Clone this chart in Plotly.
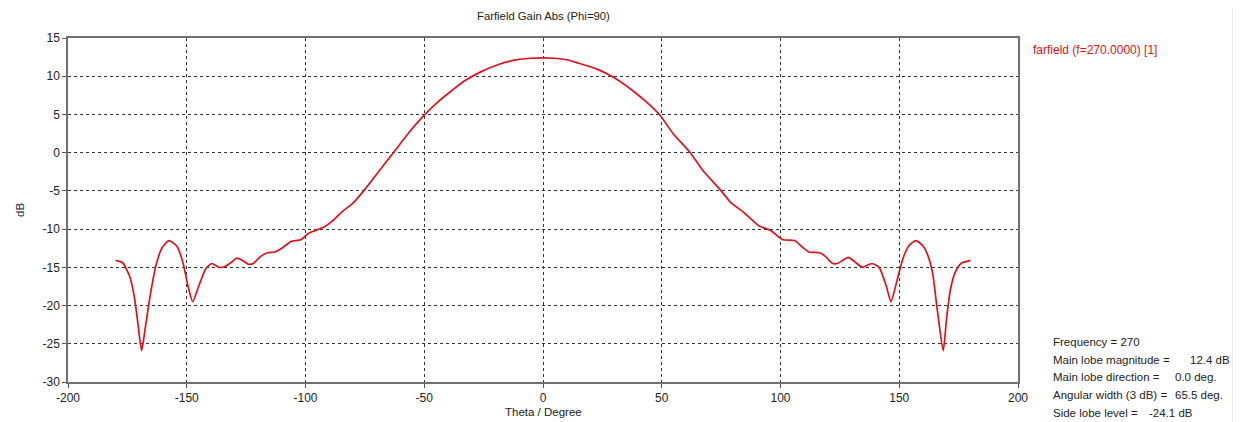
import plotly.graph_objects as go

theta = [-180, -177, -174, -172, -170.5, -169, -167.5, -165.5, -163, -160.5, -157.5, -154, -151.5,
         -149.5, -147.5, -145, -142, -139.5, -136.5, -134, -131, -129, -126.5, -124, -122, -119,
         -116, -113, -110, -106, -102, -99, -96, -92, -88.5, -84.5, -80, -75, -69, -63, -56.5,
         -50, -44, -38.5, -33, -26, -19, -12, -5, 0,
         5, 10, 15, 23, 30, 37, 44, 49.5, 55, 62, 67.5, 74.5, 79, 84.5, 88, 91, 96, 101, 106,
         109, 112, 116.5, 119, 122, 124, 128.5, 131, 134.5, 138.5, 141.5, 144.5, 146.5, 148.5,
         151.5, 154, 157, 160, 162, 164, 166, 168.5, 170, 171.5, 173.5, 176, 180]
gain_db = [-14.1, -14.4, -16.2, -19.0, -22.5, -25.9, -23.0, -18.9, -14.8, -12.5, -11.5, -12.3, -14.5,
           -17.4, -19.5, -17.5, -15.2, -14.5, -15.0, -14.9, -14.3, -13.8, -14.1, -14.6, -14.5, -13.6,
           -13.1, -13.0, -12.5, -11.6, -11.4, -10.6, -10.2, -9.7, -8.9, -7.7, -6.6, -4.8, -2.4, 0.0, 2.6,
           4.9, 6.7, 8.1, 9.4, 10.6, 11.5, 12.1, 12.35, 12.4,
           12.35, 12.15, 11.7, 10.9, 9.8, 8.3, 6.5, 4.8, 2.4, 0.0, -2.4, -4.8, -6.5, -7.8, -8.8, -9.6,
           -10.2, -11.4, -11.5, -12.3, -13.0, -13.1, -13.6, -14.5, -14.5, -13.7, -14.2, -15.0, -14.5,
           -15.0, -17.4, -19.5, -17.4, -13.9, -12.2, -11.5, -12.2, -13.4, -15.7, -20.5, -25.9, -21.5,
           -18.0, -15.7, -14.5, -14.1]

x_ticks = [-200, -150, -100, -50, 0, 50, 100, 150, 200]
y_ticks = [15, 10, 5, 0, -5, -10, -15, -20, -25, -30]

title_text = "Farfield Gain Abs (Phi=90)"
series_name = "farfield (f=270.0000) [1]"
x_title = "Theta / Degree"
y_title = "dB"
info_labels = ["Frequency = 270", "Main lobe magnitude =", "Main lobe direction =",
               "Angular width (3 dB) =", "Side lobe level ="]
info_values = ["", "12.4 dB", "0.0 deg.", "65.5 deg.", "-24.1 dB"]

FONT = "Liberation Sans"
RED = "#e3101a"
TXT = "#222222"

fig = go.Figure()
fig.add_trace(go.Scatter(x=theta, y=gain_db, mode="lines", name=series_name,
                         line=dict(color=RED, width=1.7, shape="spline", smoothing=0.6),
                         showlegend=False))

# The page body has an 8px margin; build the figure in screen coordinates minus that offset.
OFF = 8
SW, SH = 1241, 422
L, R, T, B = 68, 1018, 38, 382          # plot area in screen pixels
W, H = R - L, B - T
FW, FH = SW - OFF, SH - OFF


def px(x):
    return (x - L) / W


def py(y):
    return (B - y) / H


ann = []
ann.append(dict(text=title_text, x=0.5, y=py(16), xref="paper", yref="paper",
                showarrow=False, xanchor="center", yanchor="middle",
                font=dict(family=FONT, size=11.3, color=TXT)))
ann.append(dict(text=series_name, x=px(1031), y=py(50), xref="paper", yref="paper",
                showarrow=False, xanchor="left", yanchor="middle",
                font=dict(family=FONT, size=12, color=RED)))
ann.append(dict(text=x_title, x=0.5, y=py(412), xref="paper", yref="paper",
                showarrow=False, xanchor="center", yanchor="middle",
                font=dict(family=FONT, size=11.5, color=TXT)))
ann.append(dict(text=y_title, x=px(20), y=0.5, xref="paper", yref="paper", textangle=-90,
                showarrow=False, xanchor="center", yanchor="middle",
                font=dict(family=FONT, size=11.5, color=TXT)))
label_y = [341.5, 359.5, 377, 395, 412.5]
value_x = [None, 1188, 1173, 1173, 1147]
for i, lab in enumerate(info_labels):
    ann.append(dict(text=lab, x=px(1051), y=py(label_y[i]), xref="paper", yref="paper",
                    showarrow=False, xanchor="left", yanchor="middle",
                    font=dict(family=FONT, size=11.5, color=TXT)))
    if info_values[i]:
        ann.append(dict(text=info_values[i], x=px(value_x[i]), y=py(label_y[i]), xref="paper",
                        yref="paper", showarrow=False, xanchor="left", yanchor="middle",
                        font=dict(family=FONT, size=11.5, color=TXT)))

fig.update_layout(
    width=FW, height=FH, autosize=False,
    margin=dict(l=L - OFF, r=FW - (R - OFF), t=T - OFF, b=FH - (B - OFF), pad=0),
    paper_bgcolor="white", plot_bgcolor="white",
    font=dict(family=FONT, size=12, color=TXT),
    annotations=ann,
    shapes=[dict(type="line", xref="paper", yref="paper", x0=px(1233), x1=px(1233),
                 y0=py(OFF), y1=py(SH), line=dict(color="#dcdcdc", width=1))],
)
common = dict(showgrid=True, gridcolor="#333", griddash="dot", gridwidth=1,
              showline=True, linecolor="#707070", linewidth=1.5, mirror=True,
              ticks="outside", ticklen=4, tickcolor="#555", zeroline=False,
              automargin=False, tickfont=dict(family=FONT, size=12, color=TXT))
fig.update_xaxes(range=[-200, 200], tickvals=x_ticks, ticktext=[str(v) for v in x_ticks], **common)
fig.update_yaxes(range=[-30, 15], tickvals=y_ticks, ticktext=[str(v) for v in y_ticks], **common)

fig.write_html("out.html")
